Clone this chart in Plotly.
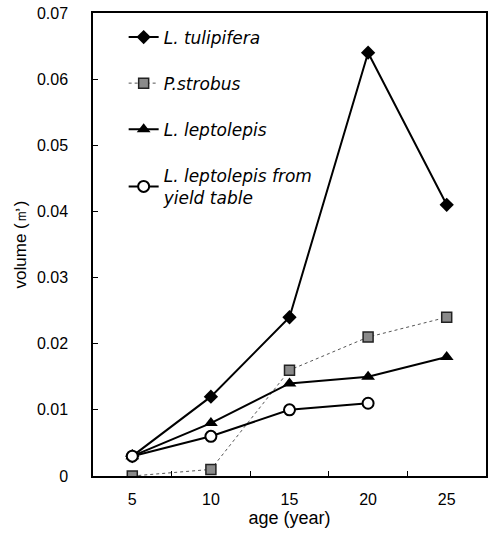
import plotly.graph_objects as go

ages = [5, 10, 15, 20, 25]
tulipifera = [0.003, 0.012, 0.024, 0.064, 0.041]
strobus = [0.0, 0.001, 0.016, 0.021, 0.024]
leptolepis = [0.003, 0.008, 0.014, 0.015, 0.018]
yield_ages = [5, 10, 15, 20]
yield_table = [0.003, 0.006, 0.010, 0.011]
y_ticks = [0, 0.01, 0.02, 0.03, 0.04, 0.05, 0.06, 0.07]
y_labels = ["0", "0.01", "0.02", "0.03", "0.04", "0.05", "0.06", "0.07"]

fig = go.Figure()
fig.add_trace(go.Scatter(x=ages, y=tulipifera, name="L. tulipifera", mode="lines+markers",
                         line=dict(color="black", width=2),
                         marker=dict(symbol="diamond", size=11, color="black"),
                         legendgroup="a"))
fig.add_trace(go.Scatter(x=ages, y=strobus, name="P.strobus", mode="lines+markers",
                         line=dict(color="#555555", width=1, dash="dot"),
                         marker=dict(symbol="square", size=10, color="#8a8a8a",
                                     line=dict(color="#222222", width=1.5)),
                         legendgroup="b"))
fig.add_trace(go.Scatter(x=ages, y=leptolepis, name="L. leptolepis", mode="lines+markers",
                         line=dict(color="black", width=2),
                         marker=dict(symbol="triangle-up", size=12, color="black"),
                         legendgroup="c"))
fig.add_trace(go.Scatter(x=yield_ages, y=yield_table, name="L. leptolepis from<br>yield table",
                         mode="lines+markers",
                         line=dict(color="black", width=2),
                         marker=dict(symbol="circle", size=11, color="white",
                                     line=dict(color="black", width=2)),
                         legendgroup="d"))

fig.update_layout(
    width=488, height=534,
    margin=dict(l=93, r=2, t=13, b=58),
    paper_bgcolor="white", plot_bgcolor="white",
    font=dict(family="Liberation Sans, Arial, sans-serif", size=15, color="black"),
    legend=dict(x=0.078, y=0.986, xanchor="left", yanchor="top",
                font=dict(family="DejaVu Sans, sans-serif", size=17, style="italic"),
                tracegroupgap=21, bgcolor="rgba(0,0,0,0)"),
    xaxis=dict(range=[2.5, 27.5], tickvals=ages, ticks="", showline=True, linecolor="black",
               linewidth=1.5, mirror=True, showgrid=False, zeroline=False, automargin=False,
               minor=dict(tickvals=[7.5, 12.5, 17.5, 22.5], ticks="inside", ticklen=5,
                          tickcolor="black", showgrid=False),
               ticklabelstandoff=8, ticklabeloverflow="allow",
               title=dict(text="age (year)", font=dict(size=18), standoff=4),
               tickfont=dict(size=16)),
    yaxis=dict(range=[0, 0.07], tickvals=y_ticks, ticktext=y_labels, ticks="inside",
               ticklen=5, tickcolor="black", showline=True, linecolor="black", linewidth=1.5,
               mirror=True, showgrid=False, zeroline=False, automargin=False,
               ticklabelstandoff=20, ticklabeloverflow="allow",
               title=dict(text="volume (㎥)", font=dict(size=17), standoff=6),
               tickfont=dict(size=16)),
)

fig.write_html("out.html", config={"displayModeBar": False},
               post_script="document.body.style.margin='0';")
